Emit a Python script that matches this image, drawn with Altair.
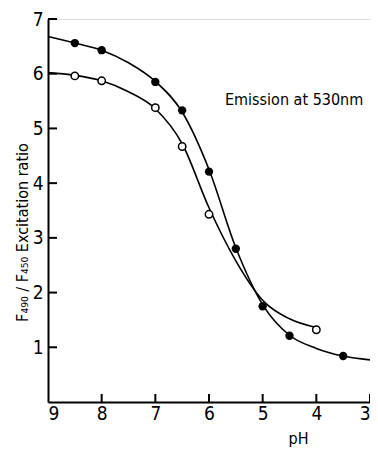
import altair as alt
import pandas as pd

# Measured points
filled_ph = [8.5, 8.0, 7.0, 6.5, 6.0, 5.5, 5.0, 4.5, 3.5]
filled_ratio = [6.56, 6.43, 5.85, 5.33, 4.21, 2.80, 1.75, 1.21, 0.84]
open_ph = [8.5, 8.0, 7.0, 6.5, 6.0, 4.0]
open_ratio = [5.96, 5.87, 5.38, 4.67, 3.43, 1.32]

# Fitted curves
fcurve_ph = [9.0, 8.5, 8.0, 7.5, 7.0, 6.5, 6.0, 5.5, 5.0, 4.5, 4.0, 3.5, 3.0]
fcurve_ratio = [6.68, 6.56, 6.43, 6.20, 5.86, 5.30, 4.25, 2.82, 1.78, 1.22, 0.98, 0.84, 0.77]
ocurve_ph = [9.0, 8.5, 8.0, 7.5, 7.0, 6.5, 6.0, 5.5, 5.0, 4.5, 4.0]
ocurve_ratio = [6.02, 5.97, 5.87, 5.67, 5.36, 4.72, 3.55, 2.58, 1.86, 1.52, 1.36]

x_ticks = [3, 4, 5, 6, 7, 8, 9]
y_ticks = [1, 2, 3, 4, 5, 6, 7]

FONT = "DejaVu Sans Condensed, Liberation Sans Narrow, DejaVu Sans"
W, H = 322, 383

pts = pd.DataFrame(
    {"pH": filled_ph + open_ph,
     "ratio": filled_ratio + open_ratio,
     "series": ["filled"] * len(filled_ph) + ["open"] * len(open_ph)}
)
curves = pd.DataFrame(
    {"pH": fcurve_ph + ocurve_ph,
     "ratio": fcurve_ratio + ocurve_ratio,
     "series": ["filled"] * len(fcurve_ph) + ["open"] * len(ocurve_ph)}
)

xscale = alt.Scale(domain=[3, 9], reverse=True, nice=False, zero=False)
yscale = alt.Scale(domain=[0, 7], nice=False)

xaxis = alt.Axis(values=x_ticks, format="d", ticks=False, grid=False, domainColor="black",
                 domainWidth=2, labelFont=FONT, labelFontSize=19, labelColor="black",
                 labelPadding=2, title="pH", titleFont=FONT, titleFontSize=16,
                 titleFontWeight="normal", titleColor="black", titleX=250, titleY=36,
                 titleAlign="center", titleBaseline="middle")
yaxis = alt.Axis(values=y_ticks, format="d", ticks=False, grid=False, domainColor="black",
                 domainWidth=2, labelFont=FONT, labelFontSize=19, labelColor="black",
                 labelPadding=5, title="F₄₉₀ / F₄₅₀ Excitation ratio", titleFont=FONT,
                 titleFontSize=16, titleFontWeight="normal", titleColor="black",
                 titleX=-26, titleY=213, titleAlign="center", titleBaseline="middle",
                 titleAngle=270)

base_x = alt.X("pH:Q", scale=xscale, axis=xaxis)
base_y = alt.Y("ratio:Q", scale=yscale, axis=yaxis)

lines = alt.Chart(curves).mark_line(interpolate="monotone", color="black", strokeWidth=1.6).encode(
    x=base_x, y=base_y, detail="series:N"
)

filled_pts = alt.Chart(pts).transform_filter(alt.datum.series == "filled").mark_point(
    shape="circle", filled=True, color="black", size=70, opacity=1
).encode(x=alt.X("pH:Q", scale=xscale), y=alt.Y("ratio:Q", scale=yscale))

open_pts = alt.Chart(pts).transform_filter(alt.datum.series == "open").mark_point(
    shape="circle", filled=True, fill="white", stroke="black", strokeWidth=1.5, size=55, opacity=1
).encode(x=alt.X("pH:Q", scale=xscale), y=alt.Y("ratio:Q", scale=yscale))

xt = pd.DataFrame({"pH": [t for t in x_ticks if t != 9]})
yt = pd.DataFrame({"ratio": y_ticks})

xtick_marks = alt.Chart(xt).mark_rule(color="black", strokeWidth=2).encode(
    x=alt.X("pH:Q", scale=xscale), y=alt.value(H), y2=alt.value(H - 8)
)
ytick_marks = alt.Chart(yt).mark_rule(color="black", strokeWidth=2).encode(
    y=alt.Y("ratio:Q", scale=yscale), x=alt.value(0), x2=alt.value(9)
)

label = alt.Chart(pd.DataFrame({"t": ["Emission at 530nm"]})).mark_text(
    align="left", baseline="middle", font=FONT, fontSize=16, color="black"
).encode(text="t:N", x=alt.value(177), y=alt.value(81))

chart = alt.layer(lines, filled_pts, open_pts, xtick_marks, ytick_marks, label).properties(
    width=W, height=H,
    autosize=alt.AutoSizeParams(type="none"),
    padding={"left": 40, "top": 11, "right": 0, "bottom": 46},
).configure_view(stroke=None).configure(background="white")

chart.save("out.html", embed_options={"renderer": "svg", "actions": False})
